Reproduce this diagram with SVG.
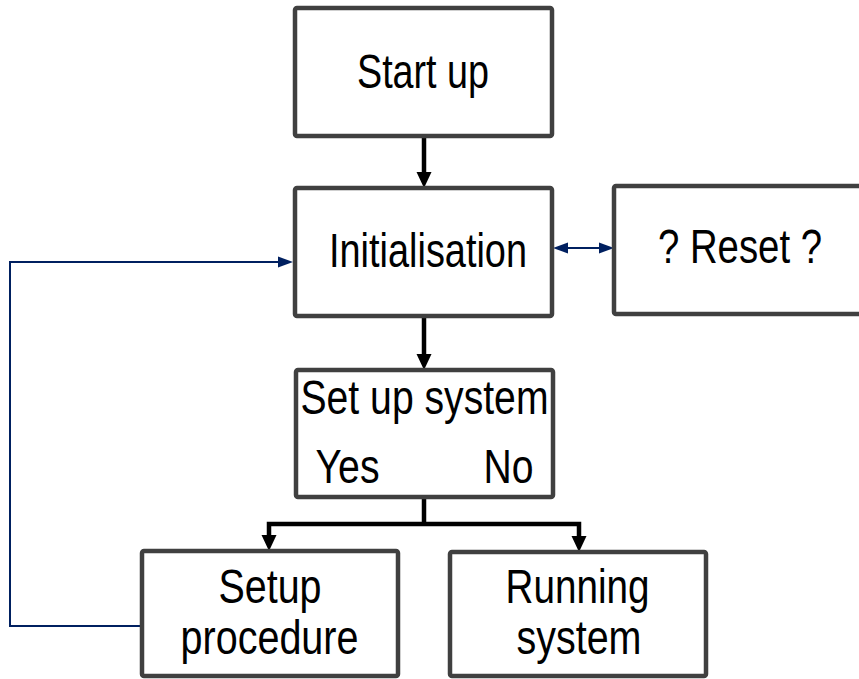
<svg xmlns="http://www.w3.org/2000/svg" width="859" height="679" viewBox="0 0 859 679">
<style>
.box{fill:#fff;stroke:#404040;stroke-width:4.5;}
.t{font-family:"Liberation Sans Narrow","Liberation Sans",Arial,sans-serif;font-size:49px;fill:#000;}
.blk{fill:none;stroke:#000;stroke-width:4.5;}
.navy{fill:none;stroke:#002060;stroke-width:2;}
.nh{fill:#002060;}
.bh{fill:#000;}
</style>
<g id="connectors">
<line class="blk" x1="424" y1="136" x2="424" y2="174"/>
<polygon class="bh" points="416.5,172 431.5,172 424,188"/>
<line class="blk" x1="424" y1="316" x2="424" y2="356"/>
<polygon class="bh" points="416.5,354 431.5,354 424,370"/>
<polyline class="blk" points="424,497 424,524"/>
<polyline class="blk" points="424,524 269,524 269,537"/>
<polygon class="bh" points="261.5,535 276.5,535 269,551"/>
<polyline class="blk" points="424,524 579,524 579,538"/>
<polygon class="bh" points="571.5,536 586.5,536 579,552"/>
<line class="navy" x1="566" y1="248" x2="602" y2="248"/>
<polygon class="nh" points="553,248 568,242.5 568,253.5"/>
<polygon class="nh" points="614,248 599,242.5 599,253.5"/>
<polyline class="navy" points="142,626 10,626 10,262 280,262"/>
<polygon class="nh" points="293,262 278,256.5 278,267.5"/>
</g>
<g id="start">
<rect class="box" x="295" y="8" width="257" height="128" rx="2"/>
<text class="t" x="423" y="88" text-anchor="middle" textLength="132" lengthAdjust="spacingAndGlyphs">Start up</text>
</g>
<g id="init">
<rect class="box" x="295" y="188" width="257" height="128" rx="2"/>
<text class="t" x="428" y="267" text-anchor="middle" textLength="198" lengthAdjust="spacingAndGlyphs">Initialisation</text>
</g>
<g id="reset">
<rect class="box" x="614" y="186" width="260" height="128" rx="2"/>
<text class="t" x="740" y="263" text-anchor="middle" textLength="164" lengthAdjust="spacingAndGlyphs">? Reset ?</text>
</g>
<g id="setupsystem">
<rect class="box" x="296" y="370" width="257" height="127" rx="2"/>
<text class="t" x="424.5" y="414" text-anchor="middle" textLength="248" lengthAdjust="spacingAndGlyphs">Set up system</text>
<text class="t" x="347.5" y="483" text-anchor="middle" textLength="64" lengthAdjust="spacingAndGlyphs">Yes</text>
<text class="t" x="508.5" y="483" text-anchor="middle" textLength="50" lengthAdjust="spacingAndGlyphs">No</text>
</g>
<g id="setupproc">
<rect class="box" x="142" y="551" width="256" height="125" rx="2"/>
<text class="t" x="270" y="603" text-anchor="middle" textLength="103" lengthAdjust="spacingAndGlyphs">Setup</text>
<text class="t" x="269.5" y="654" text-anchor="middle" textLength="178" lengthAdjust="spacingAndGlyphs">procedure</text>
</g>
<g id="running">
<rect class="box" x="450" y="552" width="256" height="124" rx="2"/>
<text class="t" x="577.5" y="603" text-anchor="middle" textLength="144" lengthAdjust="spacingAndGlyphs">Running</text>
<text class="t" x="579" y="654" text-anchor="middle" textLength="125" lengthAdjust="spacingAndGlyphs">system</text>
</g>
</svg>
